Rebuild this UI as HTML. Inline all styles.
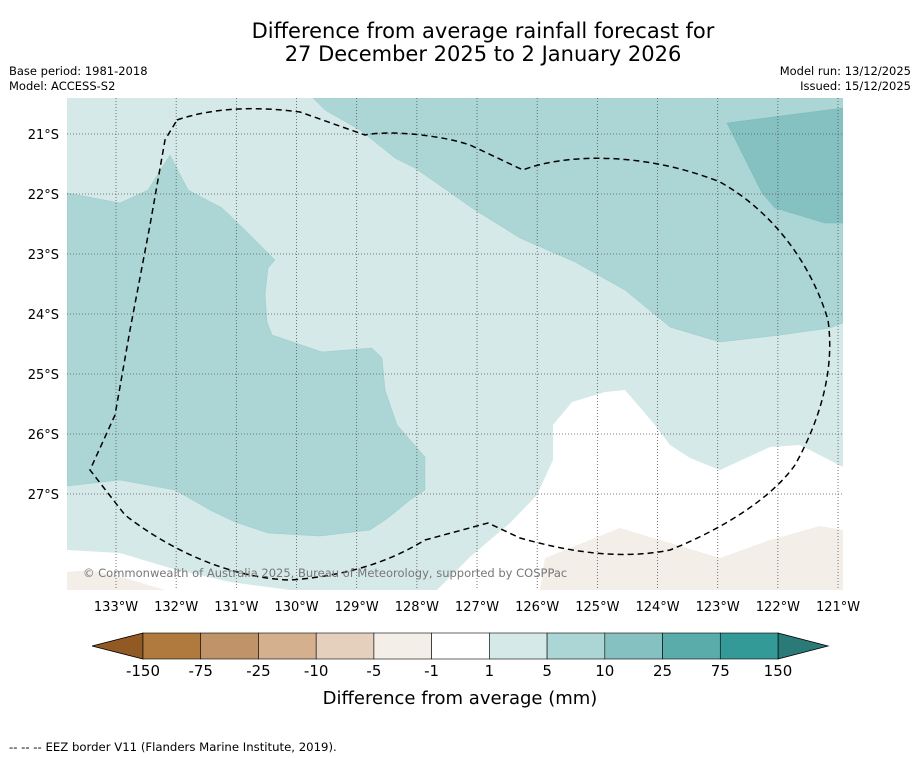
<!DOCTYPE html>
<html><head><meta charset="utf-8">
<style>
body{margin:0;background:#fff;font-family:"Liberation Sans","DejaVu Sans",sans-serif;}
#wrap{position:relative;width:919px;height:758px;overflow:hidden;}
</style></head>
<body>
<div id="wrap">
<svg id="svg" width="919" height="758" xmlns="http://www.w3.org/2000/svg" font-family="DejaVu Sans, Liberation Sans, sans-serif">
<text x="483" y="38" text-anchor="middle" font-size="21">Difference from average rainfall forecast for</text>
<text x="483" y="61" text-anchor="middle" font-size="21">27 December 2025 to 2 January 2026</text>
<text x="9" y="75" font-size="11.5">Base period: 1981-2018</text>
<text x="9" y="90" font-size="11.5">Model: ACCESS-S2</text>
<text x="911" y="75" font-size="11.5" text-anchor="end">Model run: 13/12/2025</text>
<text x="911" y="90" font-size="11.5" text-anchor="end">Issued: 15/12/2025</text>
<defs><clipPath id="mapclip"><rect x="67" y="98" width="776" height="492"/></clipPath></defs>
<g id="map" clip-path="url(#mapclip)">
<rect x="67" y="98" width="776" height="492" fill="#d5e9e8"/>
<polygon fill="#acd5d5" stroke="#9cc" stroke-width="0.5" points="313,98 325,110 360,130 395,158 415,168 475,210 520,238 575,262 625,290 670,327 720,342 780,335 830,328 843,323 843,98"/>
<polygon fill="#84c1c0" stroke="#7bb" stroke-width="0.5" points="727,123 843,108 843,223 825,223 775,208 762,193"/>
<polygon fill="#acd5d5" stroke="#9cc" stroke-width="0.5" points="67,193 120,203 148,190 170,155 188,190 222,208 245,230 275,260 268,268 265,295 267,322 272,335 322,352 372,348 382,358 385,390 397,425 425,457 425,490 410,500 388,518 370,530 320,536 268,533 235,522 210,510 175,490 120,480 67,486"/>
<polygon fill="#ffffff" points="843,467 800,445 770,447 720,470 690,458 670,445 655,425 625,390 605,392 572,402 553,425 553,460 537,495 510,523 470,557 437,590 843,590"/>
<polygon fill="#ffffff" points="67,550 120,553 170,568 230,582 290,590 67,590"/>
<polygon fill="#f3eee8" points="67,572 90,570 125,578 165,590 67,590"/>
<polygon fill="#f3eee8" points="540,590 545,558 570,548 620,528 720,558 770,540 820,526 843,530 843,590"/>
<g id="grid"></g>
<path fill="none" stroke="#000" stroke-width="1.5" stroke-dasharray="6,4" d="M177,120 C200,112 240,104 300,112 L365,135 C390,130 440,135 470,145 L523,170 C560,155 640,150 720,182 C770,210 810,260 828,320 C835,370 820,420 795,465 C770,500 720,530 670,550 C620,560 570,552 520,538 L488,523 L425,540 C400,555 360,575 290,580 C230,578 170,550 125,515 L90,470 L115,415 L130,330 L150,225 L165,140 Z"/>
<text x="83" y="577" font-size="11.5" fill="#777">© Commonwealth of Australia 2025, Bureau of Meteorology, supported by COSPPac</text>
</g>
<g id="axes"></g>
<g id="cbar"></g>
<text x="460" y="704" text-anchor="middle" font-size="18">Difference from average (mm)</text>
<text x="9" y="751" font-size="11.7">--  --  -- EEZ border V11 (Flanders Marine Institute, 2019).</text>
</svg>
</div>
<script>
const lonTicks=[133,132,131,130,129,128,127,126,125,124,123,122,121];
const latTicks=[21,22,23,24,25,26,27];
const cbarLabels=["-150","-75","-25","-10","-5","-1","1","5","10","25","75","150"];
const cbarColors=["#b07a3f","#c09468","#d4b08f","#e4d0bd","#f3eee8","#ffffff","#d5e9e8","#acd5d5","#84c1c0","#5aacab","#339a97"];
const extLow="#915a25", extHigh="#2a7a78";
const NS="http://www.w3.org/2000/svg";
function xLon(l){return 116+(133-l)*60.17;}
function yLat(l){return 134+(l-21)*60;}
function mk(t,a){const e=document.createElementNS(NS,t);for(const k in a)e.setAttribute(k,a[k]);return e;}
const grid=document.getElementById('grid'),axes=document.getElementById('axes'),cb=document.getElementById('cbar');
lonTicks.forEach(l=>{const x=xLon(l);
 const g=mk('line',{x1:x,x2:x,y1:98,y2:590,stroke:'#555','stroke-width':0.8,'stroke-dasharray':'1,2'});
 grid.appendChild(g);
 const t=mk('text',{x:x,y:611,'text-anchor':'middle','font-size':13});t.textContent=l+'°W';
 axes.appendChild(t);});
latTicks.forEach(l=>{const y=yLat(l);
 const g=mk('line',{x1:67,x2:843,y1:y,y2:y,stroke:'#555','stroke-width':0.8,'stroke-dasharray':'1,2'});
 grid.appendChild(g);
 const t=mk('text',{x:59,y:y+5,'text-anchor':'end','font-size':13});t.textContent=l+'°S';
 axes.appendChild(t);});
const cx0=143,cx1=778,cy0=633,cy1=659,n=cbarColors.length,w=(cx1-cx0)/n;
function cX(i){return cx0+i*w;}
const lt=mk('polygon',{points:`92,646 ${cx0},${cy0} ${cx0},${cy1}`,fill:extLow,stroke:'#000','stroke-width':0.8});
cb.appendChild(lt);
const rt=mk('polygon',{points:`828,646 ${cx1},${cy0} ${cx1},${cy1}`,fill:extHigh,stroke:'#000','stroke-width':0.8});
cb.appendChild(rt);
cbarColors.forEach((c,i)=>{const r=mk('rect',{x:cX(i),y:cy0,width:w,height:cy1-cy0,fill:c,stroke:'#000','stroke-width':0.6});
 cb.appendChild(r);});
cbarLabels.forEach((s,i)=>{const t=mk('text',{x:cX(i),y:676,'text-anchor':'middle','font-size':15});t.textContent=s;
 cb.appendChild(t);});
</script>
</body></html>
